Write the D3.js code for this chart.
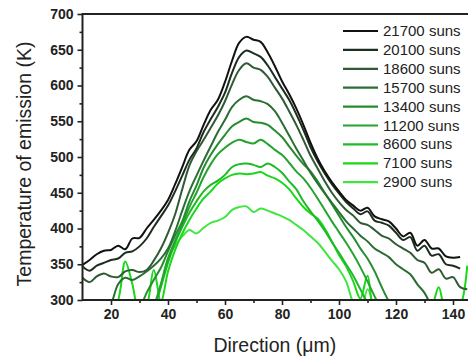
<!DOCTYPE html>
<html><head><meta charset="utf-8">
<script src="https://cdn.jsdelivr.net/npm/d3@7"></script>
<style>body{margin:0;background:#fff}svg{display:block}text{font-family:"Liberation Sans",Arial,sans-serif}</style>
</head><body>
<svg id="c" width="468" height="361"></svg>
<script>
// x grid in µm (step 2.5 from 10 to 145)
const xs = d3.range(0, 55).map(i => 10 + 2.5 * i);
const seriesNames = ["21700 suns","20100 suns","18600 suns","15700 suns","13400 suns","11200 suns","8600 suns","7100 suns","2900 suns"];
const seriesColors = ["#111111","#1c2e1e","#2f5a35","#2a6e32","#268c30","#24a42e","#1fba25","#18d818","#40e640"];
const _ = null;
const s21700 = [349,356,364,369,370,376,371,386,387,400,412,425,440,462,486,510,522,545,566,580,605,635,660,668,664,661,646,627,606,588,568,545,520,498,480,465,452,440,432,425,429,417,413,410,400,389,394,376,384,372,372,361,359,360,_];
const s20100 = [347,341,348,352,356,358,366,368,375,386,402,417,432,452,474,496,512,535,553,570,590,618,640,649,645,640,628,612,596,580,560,538,514,494,477,462,449,437,428,420,424,411,408,404,394,384,388,369,376,362,364,350,348,344,_];
const s18600 = [331,325,333,337,333,332,340,342,339,342,355,372,394,420,455,488,508,524,541,558,578,602,622,631,625,622,612,597,582,564,545,524,502,484,466,450,437,426,418,408,405,398,390,386,378,372,366,356,352,338,343,330,332,318,315];
const s15700 = [_,_,_,285,295,322,331,328,333,340,348,358,372,396,425,452,474,495,515,535,552,570,580,585,580,578,574,564,548,530,512,495,478,463,449,436,423,410,400,390,382,372,366,360,350,343,336,322,310,290,_,_,_,_,_];
const s13400 = [_,_,_,_,_,_,_,_,285,310,328,345,368,390,410,438,460,485,503,518,531,543,549,554,549,548,545,537,528,515,502,490,480,466,450,434,418,402,388,372,358,340,318,298,282,_,_,_,_,_,_,_,_,_,_];
const s11200 = [_,_,_,_,_,_,_,_,_,_,290,322,358,383,405,430,450,472,490,504,513,520,524,521,519,524,518,510,503,492,480,470,457,442,426,410,395,380,364,346,326,305,285,_,_,_,_,_,_,_,_,_,_,_,_];
const s8600  = [_,_,_,_,_,_,_,_,_,_,285,318,352,380,402,422,438,452,461,467,475,486,490,491,489,486,491,486,478,466,455,438,424,411,397,381,366,350,334,315,296,285,_,_,_,_,_,_,_,_,_,_,_,_,_];
const s7100  = [_,_,_,280,285,300,354,322,282,292,342,298,340,370,393,412,428,442,452,463,470,475,477,476,477,479,474,470,464,455,442,430,421,414,400,382,363,347,326,302,334,282,288,296,285,290,282,285,282,290,318,284,285,292,348];
const s2900  = [_,_,_,_,_,_,_,_,282,286,290,322,358,376,389,398,393,401,408,411,416,426,430,431,423,428,425,421,417,412,405,398,389,380,368,355,343,326,296,282,315,282,_,_,_,_,_,_,_,_,_,_,_,_,_];
const seriesValues = [s21700,s20100,s18600,s15700,s13400,s11200,s8600,s7100,s2900];
const xTicks = [20,40,60,80,100,120,140];
const xMinor = [30,50,70,90,110,130];
const yTicks = [300,350,400,450,500,550,600,650,700];
const yMinor = [325,375,425,475,525,575,625,675];

const svg = d3.select("#c");
const L = 82.5, R = 467.25, T = 14, B = 300;
const x = d3.scaleLinear().domain([10,145]).range([L,R]);
const y = d3.scaleLinear().domain([300,700]).range([B,T]);

svg.append("defs").append("clipPath").attr("id","clip")
  .append("rect").attr("x",L).attr("y",T).attr("width",468-L).attr("height",B-T);

const line = d3.line().defined(d => d[1] !== null)
  .x(d => x(d[0])).y(d => y(d[1])).curve(d3.curveCatmullRom.alpha(0.5));

const g = svg.append("g").attr("clip-path","url(#clip)");
for (let k = seriesValues.length - 1; k >= 0; k--) {
  const pts = xs.map((xv,i) => [xv, seriesValues[k][i]]);
  g.append("path").attr("d", line(pts)).attr("fill","none")
    .attr("stroke", seriesColors[k]).attr("stroke-width",2).attr("stroke-linejoin","round");
}

const xAxis = svg.append("g").attr("transform",`translate(0,${B})`)
  .call(d3.axisBottom(x).tickValues(xTicks).tickSize(5).tickPadding(4).tickFormat(d3.format("d")));
const xAxisMinor = svg.append("g").attr("transform",`translate(0,${B})`)
  .call(d3.axisBottom(x).tickValues(xMinor).tickSize(3).tickFormat(""));
const yAxis = svg.append("g").attr("transform",`translate(${L},0)`)
  .call(d3.axisLeft(y).tickValues(yTicks).tickSize(5).tickPadding(4).tickFormat(d3.format("d")));
const yAxisMinor = svg.append("g").attr("transform",`translate(${L},0)`)
  .call(d3.axisLeft(y).tickValues(yMinor).tickSize(3).tickFormat(""));
[xAxis,xAxisMinor,yAxis,yAxisMinor].forEach(a => {
  a.select(".domain").remove();
  a.selectAll("line").attr("stroke","#222").attr("stroke-width",1.6);
  a.selectAll("text").attr("font-size",14).attr("font-weight","bold").attr("fill","#222")
    .attr("font-family","'Liberation Sans',Arial,sans-serif");
});
svg.append("line").attr("x1",L).attr("x2",468).attr("y1",B).attr("y2",B).attr("stroke","#222").attr("stroke-width",2);
svg.append("line").attr("x1",L).attr("x2",L).attr("y1",T-1).attr("y2",B+1).attr("stroke","#222").attr("stroke-width",2);
svg.append("line").attr("x1",L).attr("x2",468).attr("y1",T).attr("y2",T).attr("stroke","#222").attr("stroke-width",2);

svg.append("text").attr("x",(L+R)/2).attr("y",352).attr("text-anchor","middle")
  .attr("font-size",19.5).attr("fill","#222").text("Direction (μm)");
svg.append("text").attr("transform",`translate(31,${(T+B)/2 + 7}) rotate(-90)`).attr("text-anchor","middle")
  .attr("font-size",19.5).attr("fill","#222").text("Temperature of emission (K)");

const lg = svg.append("g");
seriesNames.forEach((n,i) => {
  const cy = 31 + i * 18.9;
  lg.append("line").attr("x1",343).attr("x2",378).attr("y1",cy).attr("y2",cy)
    .attr("stroke",seriesColors[i]).attr("stroke-width",2.2);
  lg.append("text").attr("x",383).attr("y",cy+5).attr("font-size",15).attr("fill","#222").text(n);
});
</script>
</body></html>
